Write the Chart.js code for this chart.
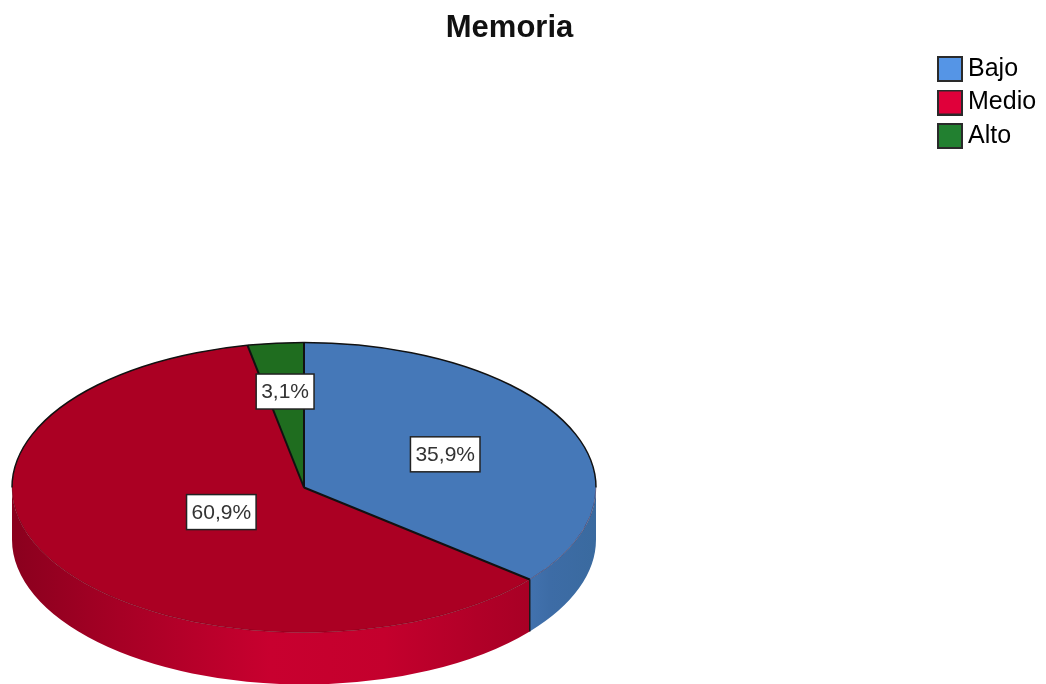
<!DOCTYPE html>
<html>
<head>
<meta charset="utf-8">
<style>
html,body{margin:0;padding:0;background:#fff}
canvas{display:block;filter:blur(0.45px)}
</style>
<script src="https://cdn.jsdelivr.net/npm/chart.js@4/dist/chart.umd.min.js"></script>
</head>
<body>
<canvas id="c" width="1046" height="684"></canvas>
<script>
const titleText = 'Memoria';
const categories = ['Bajo', 'Medio', 'Alto'];
const percentages = [35.9, 60.9, 3.1];
const topColors = ['#4578b8', '#ab0023', '#1f6d1f'];
const legendColors = ['#5595e6', '#e0003a', '#228030'];
const rimStops = [
  [[0, '#3a6a9f'], [0.7, '#3d6ca6'], [1, '#4272ae']],
  [[0, '#8a001e'], [0.18, '#a30024'], [0.5, '#c8002f'], [0.72, '#c4002d'], [0.9, '#b10028'], [1, '#a80025']],
  [[0, '#1f6d1f'], [1, '#1f6d1f']]
];

const view = { cx: 304, cy: 487.5, radius: 292, squash: 0.4966, depth: 52 };
const labelReach = [0.535, 0.33, 0.665];
const labelBox = { h: 35, pad: 10 };

function swatch(color) {
  const s = document.createElement('canvas');
  s.width = 26; s.height = 26;
  const g = s.getContext('2d');
  g.fillStyle = color; g.fillRect(0, 0, 26, 26);
  g.strokeStyle = '#2a2a2a'; g.lineWidth = 2; g.strokeRect(1, 1, 24, 24);
  return s;
}

function arcs(chart) {
  return chart.getDatasetMeta(0).data.map(a => a.getProps(['x', 'y', 'startAngle', 'endAngle', 'outerRadius'], true));
}

const pie3d = {
  id: 'pie3d',
  afterLayout(chart) {
    chart.legend.left = 936;
    chart.legend.top = 48;
    chart.titleBlock.left -= 13.5;
    chart.titleBlock.right -= 13.5;
  },
  beforeDatasetsDraw(chart) {
    const ctx = chart.ctx, { cx, cy, squash, depth } = view;
    const list = arcs(chart);
    // side wall: only the part of every slice that faces the viewer
    list.forEach((a, i) => {
      const a0 = Math.max(a.startAngle, 0), a1 = Math.min(a.endAngle, Math.PI);
      if (a1 <= a0) return;
      const r = a.outerRadius, ry = r * squash;
      const x0 = cx + r * Math.cos(a1), x1 = cx + r * Math.cos(a0);
      const grad = ctx.createLinearGradient(x0, 0, x1, 0);
      const stops = rimStops[i];
      // stops run left to right across the visible part of the wall
      (i === 0 ? stops.map(s => [1 - s[0], s[1]]) : stops).forEach(s => grad.addColorStop(s[0], s[1]));
      ctx.save();
      ctx.beginPath();
      ctx.ellipse(cx, cy, r, ry, 0, a0, a1);
      ctx.ellipse(cx, cy + depth, r, ry, 0, a1, a0, true);
      ctx.closePath();
      ctx.fillStyle = grad;
      ctx.fill();
      ctx.restore();
      // vertical seam where a slice boundary meets the front
      if (a.startAngle > 0 && a.startAngle < Math.PI) {
        const sx = cx + r * Math.cos(a.startAngle), sy = cy + ry * Math.sin(a.startAngle);
        ctx.save();
        ctx.beginPath();
        ctx.moveTo(sx, sy);
        ctx.lineTo(sx, sy + depth);
        ctx.strokeStyle = '#1a1a1a';
        ctx.lineWidth = 1.5;
        ctx.stroke();
        ctx.restore();
      }
    });
    const a = list[0];
    ctx.save();
    ctx.translate(cx, cy);
    ctx.scale(1, squash);
    ctx.translate(-a.x, -a.y);
  },
  afterDatasetsDraw(chart) {
    const ctx = chart.ctx, { cx, cy, squash } = view;
    ctx.restore();
    const list = arcs(chart);
    const r = list[0].outerRadius, ry = r * squash;
    // front edge, very faint
    ctx.save();
    ctx.beginPath();
    ctx.ellipse(cx, cy, r, ry, 0, 0, Math.PI);
    ctx.strokeStyle = 'rgba(70,0,15,0.35)';
    ctx.lineWidth = 1;
    ctx.stroke();
    // back edge
    ctx.beginPath();
    ctx.ellipse(cx, cy, r, ry, 0, Math.PI, 2 * Math.PI);
    ctx.strokeStyle = '#111';
    ctx.lineWidth = 1.5;
    ctx.stroke();
    // slice boundaries
    list.forEach(a => {
      ctx.beginPath();
      ctx.moveTo(cx, cy);
      ctx.lineTo(cx + r * Math.cos(a.startAngle), cy + ry * Math.sin(a.startAngle));
      ctx.strokeStyle = '#111';
      ctx.lineWidth = 2;
      ctx.stroke();
    });
    // value labels
    ctx.font = '21px "Liberation Sans"';
    ctx.textAlign = 'center';
    ctx.textBaseline = 'middle';
    list.forEach((a, i) => {
      const mid = (a.startAngle + a.endAngle) / 2;
      const lx = cx + labelReach[i] * r * Math.cos(mid);
      const ly = cy + labelReach[i] * ry * Math.sin(mid);
      const txt = percentages[i].toFixed(1).replace('.', ',') + '%';
      const w = ctx.measureText(txt).width + labelBox.pad, h = labelBox.h;
      ctx.fillStyle = '#fff';
      ctx.fillRect(lx - w / 2, ly - h / 2, w, h);
      ctx.strokeStyle = '#222';
      ctx.lineWidth = 1.5;
      ctx.strokeRect(lx - w / 2, ly - h / 2, w, h);
      ctx.fillStyle = '#333';
      ctx.fillText(txt, lx, ly + 1);
    });
    ctx.restore();
  }
};

new Chart(document.getElementById('c'), {
  type: 'pie',
  data: {
    labels: categories,
    datasets: [{
      data: percentages,
      backgroundColor: topColors,
      borderWidth: 0,
      clip: false
    }]
  },
  options: {
    responsive: false,
    animation: false,
    radius: view.radius,
    events: [],
    plugins: {
      tooltip: { enabled: false },
      title: {
        display: true,
        text: titleText,
        color: '#111',
        font: { family: '"Liberation Sans"', size: 31, weight: 'bold', lineHeight: 1.2 },
        padding: { top: 10, bottom: 6 }
      },
      legend: {
        display: true,
        position: 'right',
        align: 'start',
        labels: {
          usePointStyle: true,
          boxWidth: 11,
          padding: 8.5,
          color: '#333',
          font: { family: '"Liberation Sans"', size: 25 },
          generateLabels: () => categories.map((name, i) => ({
            text: name,
            pointStyle: swatch(legendColors[i]),
            fillStyle: legendColors[i],
            strokeStyle: '#2a2a2a',
            lineWidth: 2,
            hidden: false,
            index: i,
            datasetIndex: 0
          }))
        }
      }
    }
  },
  plugins: [pie3d]
});
</script>
</body>
</html>
